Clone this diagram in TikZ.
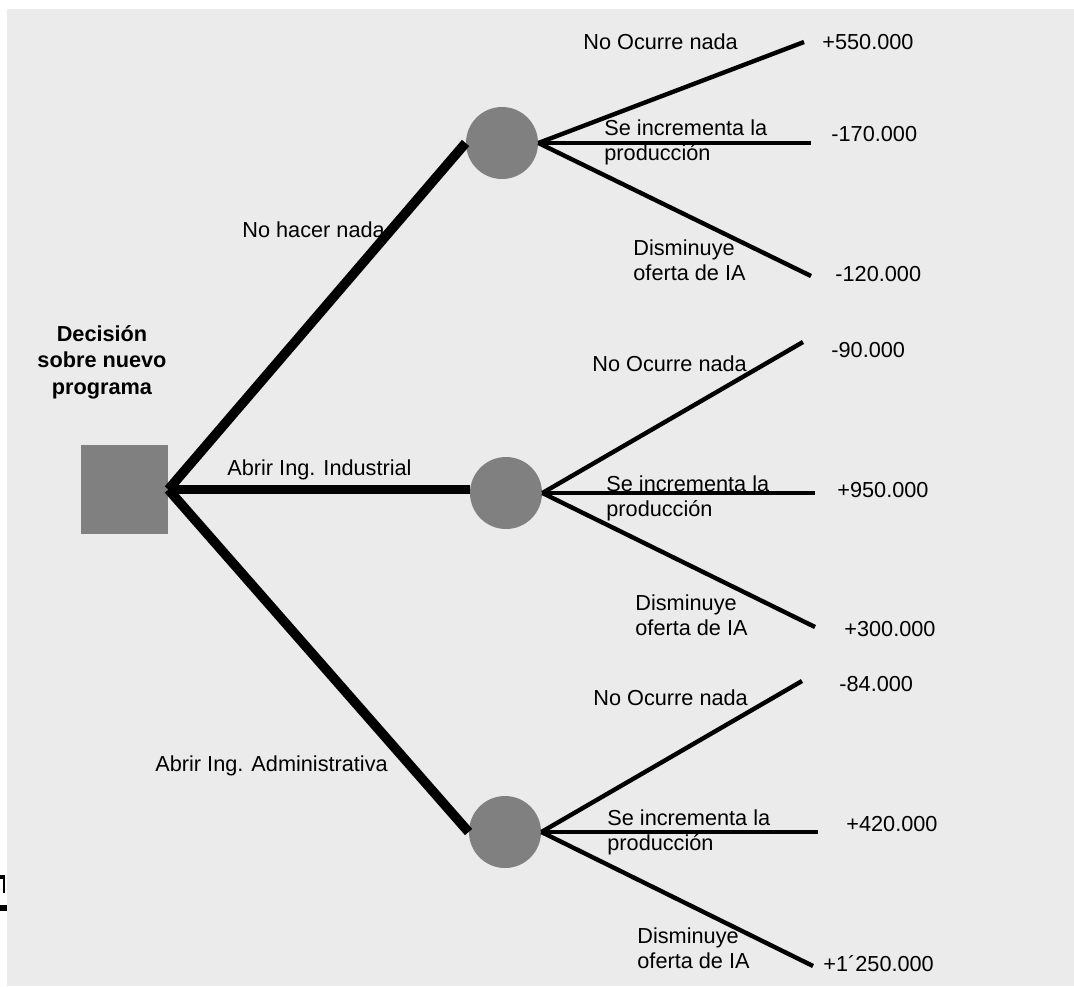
\documentclass[tikz,border=0pt]{standalone}
\usepackage{fontspec}
\setmainfont{Liberation Sans}

\definecolor{bggray}{HTML}{EBEBEB}
\definecolor{nodegray}{HTML}{808080}

\begin{document}
\begin{tikzpicture}[x=0.5pt, y=-0.5pt,
	txt/.style={anchor=base west, inner sep=0pt, align=left, font=\fontsize{10.85}{12.5}\selectfont},
	chance/.style={circle, fill=nodegray, minimum size=36pt, inner sep=0pt},
	decision/.style={rectangle, fill=nodegray, minimum width=43.5pt, minimum height=44.5pt, inner sep=0pt},
	branch/.style={line width=4.8pt},
	outcome/.style={line width=2.2pt}]

\useasboundingbox (0,0) rectangle (1074,986);
\fill [bggray] (7,9) rectangle (1074,986);

% CUT OFF MARK
\fill (0,875) rectangle (5,879);
\fill (3,875) rectangle (5,893);
\fill (0,905) rectangle (7,911);

% LABELS (base of a two line label is its second line)
\node [txt, anchor=base, align=center, font=\fontsize{10.85}{13.25}\selectfont\bfseries] (title) at (102,394) {Decisión\\sobre nuevo\\programa};
\node [txt] (lnada) at (242,237) {No hacer nada};
\node [txt] (lind) at (227,475) {Abrir Ing. Industrial};
\node [txt] (ladm) at (155,771) {Abrir Ing. Administrativa};

\node [txt] (oc1) at (583,49) {No Ocurre nada};
\node [txt] (inc1) at (604,160) {Se incrementa la\\producción};
\node [txt] (dis1) at (633,280) {Disminuye\\oferta de IA};
\node [txt] (v11) at (822,49) {+550.000};
\node [txt] (v12) at (831,141) {-170.000};
\node [txt] (v13) at (835,281) {-120.000};

\node [txt] (oc2) at (592,371) {No Ocurre nada};
\node [txt] (inc2) at (606,516) {Se incrementa la\\producción};
\node [txt] (dis2) at (635,635) {Disminuye\\oferta de IA};
\node [txt] (v21) at (831,357) {-90.000};
\node [txt] (v22) at (837,497) {+950.000};
\node [txt] (v23) at (844,636) {+300.000};

\node [txt] (oc3) at (593,705) {No Ocurre nada};
\node [txt] (inc3) at (607,850) {Se incrementa la\\producción};
\node [txt] (dis3) at (637,968) {Disminuye\\oferta de IA};
\node [txt] (v31) at (839,691) {-84.000};
\node [txt] (v32) at (846,831) {+420.000};
\node [txt] (v33) at (823,971) {+1´250.000};

% NODES
\node [decision] (dec) at (124.5,489.5) {};
\node [chance] (c1) at (502,143) {};
\node [chance] (c2) at (506,493) {};
\node [chance] (c3) at (505,832) {};

\coordinate (e11) at (804,42);
\coordinate (e12) at (811,143);
\coordinate (e13) at (811,276);
\coordinate (e21) at (803,342);
\coordinate (e22) at (815,493);
\coordinate (e23) at (815,627);
\coordinate (e31) at (802,681);
\coordinate (e32) at (818,832);
\coordinate (e33) at (813,966);

% BRANCHES
\draw [branch] (dec.east) -- (c1.west);
\draw [branch] (dec.east) -- (dec.east -| c2.west);
\draw [branch] (dec.east) -- (c3.west);

\draw [outcome] (c1.east) -- (e11);
\draw [outcome] (c1.east) -- (e12);
\draw [outcome] (c1.east) -- (e13);
\draw [outcome] (c2.east) -- (e21);
\draw [outcome] (c2.east) -- (e22);
\draw [outcome] (c2.east) -- (e23);
\draw [outcome] (c3.east) -- (e31);
\draw [outcome] (c3.east) -- (e32);
\draw [outcome] (c3.east) -- (e33);

\end{tikzpicture}
\end{document}
